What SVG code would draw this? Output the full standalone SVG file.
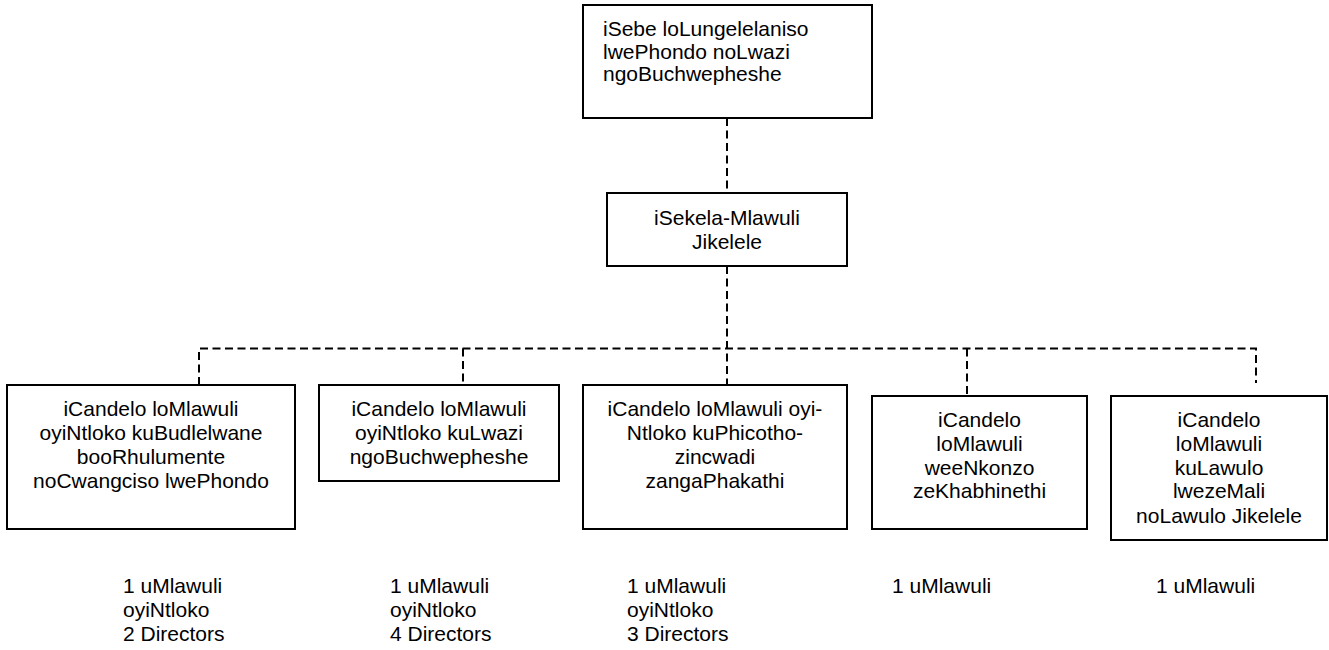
<svg xmlns="http://www.w3.org/2000/svg" width="1329" height="650" viewBox="0 0 1329 650">
<style>
.box{fill:#fff;stroke:#000;stroke-width:2}
.t{font-family:"Liberation Sans",Arial,sans-serif;font-size:21px;fill:#000}
.c{text-anchor:middle}
.dash{fill:none;stroke:#000;stroke-width:2;stroke-dasharray:8 4.5}
</style>
<rect width="1329" height="650" fill="#fff"/>
<g id="connectors">
<path class="dash" d="M727 118V193"/>
<path class="dash" d="M727 266V385"/>
<path class="dash" d="M199 385V348.5H1256V383"/>
<path class="dash" d="M463 348.5V385"/>
<path class="dash" d="M967 348.5V396"/>
</g>
<g id="n-top">
<rect class="box" x="583" y="5" width="289" height="113"/>
<text class="t" x="603" y="36">iSebe loLungelelaniso</text>
<text class="t" x="603" y="58.5">lwePhondo noLwazi</text>
<text class="t" x="603" y="81">ngoBuchwepheshe</text>
</g>
<g id="n-mid">
<rect class="box" x="607" y="193" width="240" height="73"/>
<text class="t c" x="727" y="225">iSekela-Mlawuli</text>
<text class="t c" x="727" y="248.5">Jikelele</text>
</g>
<g id="n-b1">
<rect class="box" x="7" y="385" width="288" height="144"/>
<text class="t c" x="151" y="416">iCandelo loMlawuli</text>
<text class="t c" x="151" y="440">oyiNtloko kuBudlelwane</text>
<text class="t c" x="151" y="464">booRhulumente</text>
<text class="t c" x="151" y="488">noCwangciso lwePhondo</text>
</g>
<g id="n-b2">
<rect class="box" x="319" y="385" width="240" height="96"/>
<text class="t c" x="439" y="416">iCandelo loMlawuli</text>
<text class="t c" x="439" y="440">oyiNtloko kuLwazi</text>
<text class="t c" x="439" y="464">ngoBuchwepheshe</text>
</g>
<g id="n-b3">
<rect class="box" x="583" y="385" width="264" height="144"/>
<text class="t c" x="715" y="416">iCandelo loMlawuli oyi-</text>
<text class="t c" x="715" y="440">Ntloko kuPhicotho-</text>
<text class="t c" x="715" y="464">zincwadi</text>
<text class="t c" x="715" y="488">zangaPhakathi</text>
</g>
<g id="n-b4">
<rect class="box" x="872" y="396" width="215" height="133"/>
<text class="t c" x="979.5" y="427">iCandelo</text>
<text class="t c" x="979.5" y="450.5">loMlawuli</text>
<text class="t c" x="979.5" y="474.5">weeNkonzo</text>
<text class="t c" x="979.5" y="498">zeKhabhinethi</text>
</g>
<g id="n-b5">
<rect class="box" x="1111" y="396" width="216" height="144"/>
<text class="t c" x="1219" y="427">iCandelo</text>
<text class="t c" x="1219" y="450.5">loMlawuli</text>
<text class="t c" x="1219" y="474.5">kuLawulo</text>
<text class="t c" x="1219" y="498">lwezeMali</text>
<text class="t c" x="1219" y="522.5">noLawulo Jikelele</text>
</g>
<g id="labels">
<text class="t" x="123" y="593">1 uMlawuli</text>
<text class="t" x="123" y="617">oyiNtloko</text>
<text class="t" x="123" y="641">2 Directors</text>
<text class="t" x="390" y="593">1 uMlawuli</text>
<text class="t" x="390" y="617">oyiNtloko</text>
<text class="t" x="390" y="641">4 Directors</text>
<text class="t" x="627" y="593">1 uMlawuli</text>
<text class="t" x="627" y="617">oyiNtloko</text>
<text class="t" x="627" y="641">3 Directors</text>
<text class="t" x="892" y="593">1 uMlawuli</text>
<text class="t" x="1156" y="593">1 uMlawuli</text>
</g>
</svg>
